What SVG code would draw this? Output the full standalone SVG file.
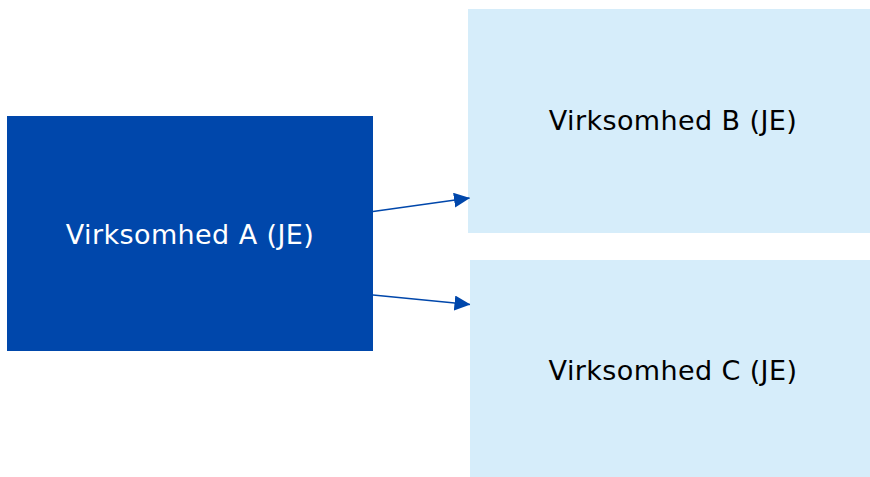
<svg xmlns="http://www.w3.org/2000/svg" width="870" height="477" viewBox="0 0 870 477">
<style>
.lbl{font-family:"DejaVu Sans",Verdana,sans-serif;font-size:27px;letter-spacing:0.4px;text-anchor:middle}
.light{fill:#D6EDFA}
.conn{stroke:#0047AB;stroke-width:1.5;fill:none}
</style>
<defs>
<marker id="ah" markerWidth="16" markerHeight="15" refX="15.5" refY="7.5" orient="auto" markerUnits="userSpaceOnUse">
<path d="M0,0 L16,7.5 L0,15 Z" fill="#0047AB"/>
</marker>
</defs>
<rect width="870" height="477" fill="#fff"/>
<g id="nodeA">
<rect x="7" y="116" width="366" height="235" fill="#0047AB"/>
<text class="lbl" x="190" y="244" fill="#fff">Virksomhed A (JE)</text>
</g>
<g id="nodeB">
<rect class="light" x="468" y="9" width="402" height="224"/>
<text class="lbl" x="673" y="130" fill="#000">Virksomhed B (JE)</text>
</g>
<g id="nodeC">
<rect class="light" x="470" y="260" width="400" height="217"/>
<text class="lbl" x="673" y="380" fill="#000">Virksomhed C (JE)</text>
</g>
<g id="connectors">
<line class="conn" x1="373" y1="211.5" x2="469.5" y2="198" marker-end="url(#ah)"/>
<line class="conn" x1="373" y1="295" x2="470" y2="304.5" marker-end="url(#ah)"/>
</g>
</svg>
